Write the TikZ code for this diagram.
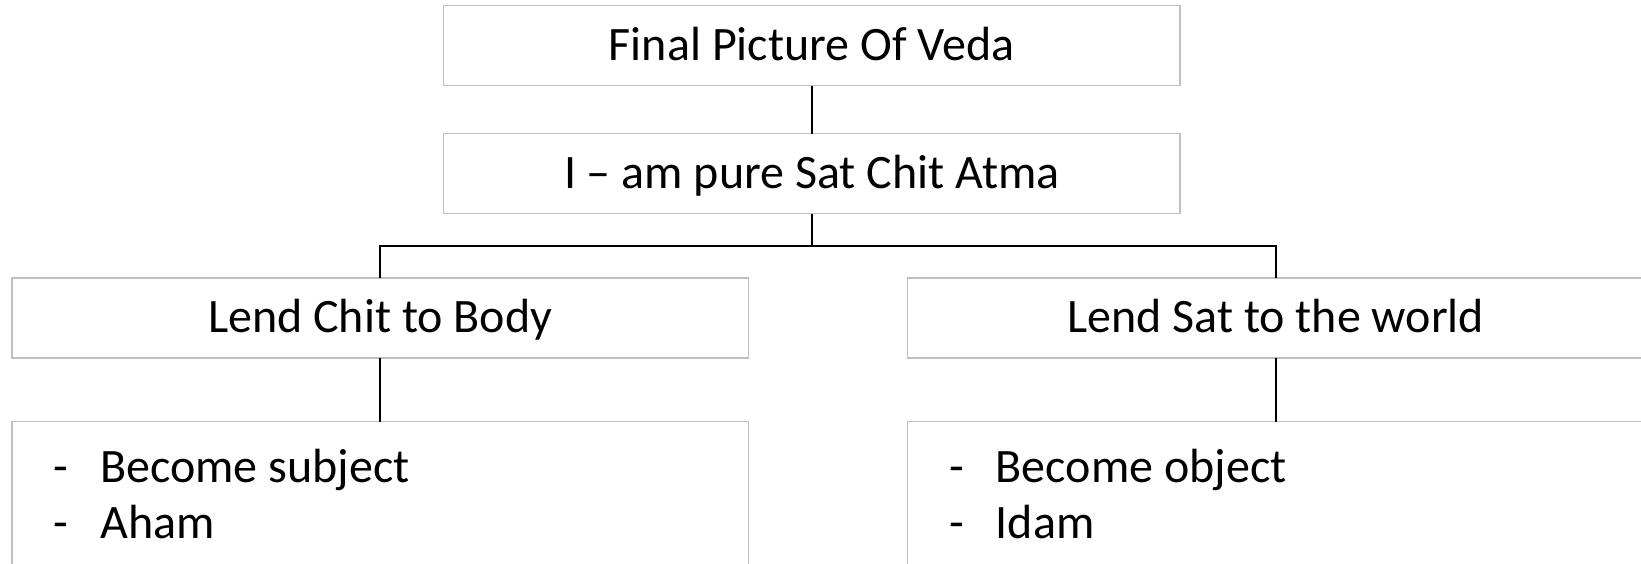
\documentclass[tikz,border=0pt]{standalone}
\usepackage{fontspec}
\setmainfont{Carlito}
\usetikzlibrary{calc}
\definecolor{boxgray}{RGB}{191,191,191}
\begin{document}
\begin{tikzpicture}[x=1pt,y=-1pt,
  txt/.style={font=\fontsize{48}{56}\selectfont},
  box/.style={txt, draw=boxgray, line width=1.5pt, rectangle, outer sep=0pt,
    minimum width=736.5pt, minimum height=80pt, inner sep=0pt,
    text height=30.3pt, text depth=0pt},
  listbox/.style={box, minimum height=220pt},
  item/.style={txt, inner sep=0pt, outer sep=0pt, anchor=base west},
  conn/.style={draw=black, line width=2pt}]
  \useasboundingbox (0,0) rectangle (1641,563);
  \clip (0,0) rectangle (1641,563);

  % hierarchy boxes
  \node[box] (top)  at (811.75,45.7)  {Final Picture Of Veda};
  \node[box] (atma) at (811.75,173.7) {I – am pure Sat Chit Atma};
  \node[box] (chit) at (380.15,317.8) {Lend Chit to Body};
  \node[box] (sat)  at (1275.65,317.8) {Lend Sat to the world};
  \node[listbox, anchor=north] (subj) at (380.15,421.7) {};
  \node[listbox, anchor=north] (obj)  at (1275.65,421.7) {};

  % bullet lists
  \node[item] (subjtext) at ($(subj.north west)+(42,60.3)$)
    {\begin{tabular}[t]{@{}p{46.5pt}@{}l@{}}-&Become subject\\-&Aham\end{tabular}};
  \node[item] (objtext) at ($(obj.north west)+(42,60.3)$)
    {\begin{tabular}[t]{@{}p{46.5pt}@{}l@{}}-&Become object\\-&Idam\end{tabular}};

  % connectors
  \coordinate (bar) at (811.75,245.7);
  \draw[conn] (top.south) -- (atma.north);
  \draw[conn] (atma.south) -- (bar);
  \draw[conn] (bar) -| (chit.north);
  \draw[conn] (bar) -| (sat.north);
  \draw[conn] (chit.south) -- (subj.north);
  \draw[conn] (sat.south) -- (obj.north);
\end{tikzpicture}
\end{document}
